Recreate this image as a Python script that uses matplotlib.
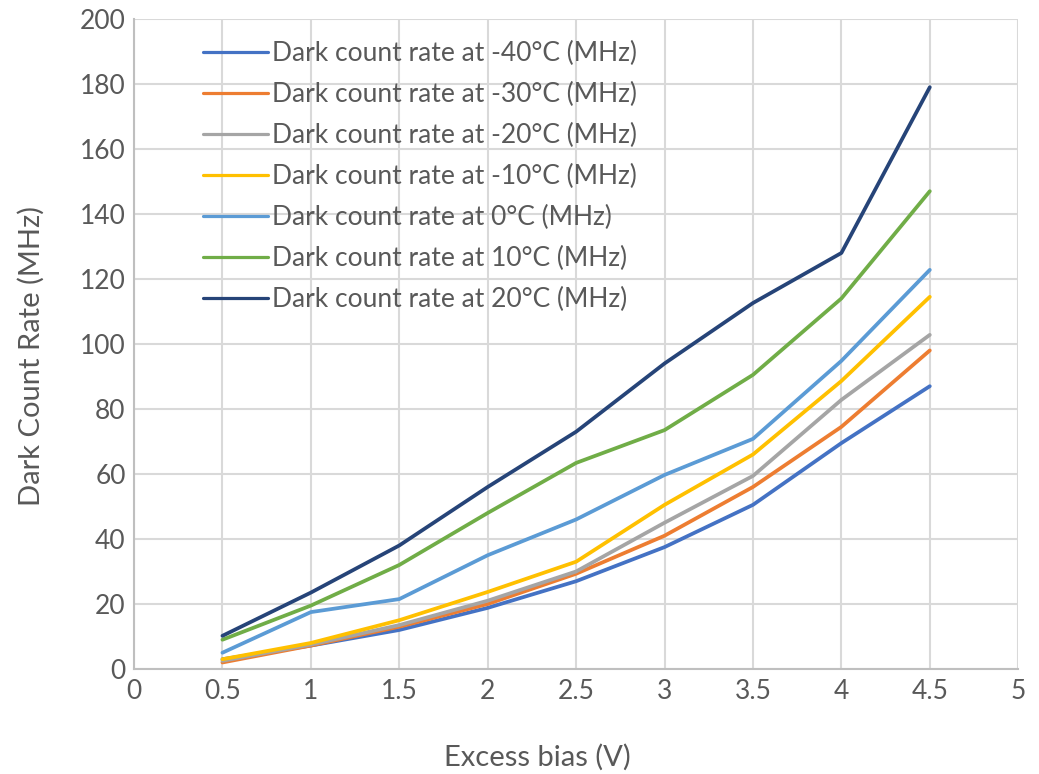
import matplotlib.pyplot as plt

plt.rcParams['font.family'] = ['Lato', 'DejaVu Sans']

bias = [0.5, 1, 1.5, 2, 2.5, 3, 3.5, 4, 4.5]
temps = ['-40', '-30', '-20', '-10', '0', '10', '20']
dcr_m40 = [3.0, 7.2, 12.0, 18.8, 27.0, 37.5, 50.5, 69.5, 87.0]
dcr_m30 = [2.0, 7.2, 13.0, 20.0, 29.3, 41.0, 56.0, 74.5, 98.0]
dcr_m20 = [2.5, 7.5, 13.5, 21.0, 30.0, 45.0, 59.4, 82.8, 102.8]
dcr_m10 = [3.0, 8.0, 15.0, 23.7, 33.0, 50.5, 66.0, 88.6, 114.5]
dcr_0 = [5.0, 17.5, 21.5, 35.0, 46.0, 59.7, 70.8, 94.8, 122.8]
dcr_10 = [9.0, 19.5, 32.0, 48.0, 63.4, 73.5, 90.5, 114.0, 147.0]
dcr_20 = [10.2, 23.5, 38.0, 56.0, 73.0, 94.0, 112.6, 128.0, 179.0]
series = [dcr_m40, dcr_m30, dcr_m20, dcr_m10, dcr_0, dcr_10, dcr_20]
colors = ['#4472C4', '#ED7D31', '#A5A5A5', '#FFC000', '#5B9BD5', '#70AD47', '#264478']

fig = plt.figure(figsize=(10.39, 7.74), dpi=100)
ax = fig.add_axes([0.129, 0.1357, 0.851, 0.8398])

for t, vals, c in zip(temps, series, colors):
    ax.plot(bias, vals, color=c, lw=2.7, label=f'Dark count rate at {t}°C (MHz)',
            solid_joinstyle='round', solid_capstyle='round')

txt = '#595959'
ax.set_xlim(0, 5)
ax.set_ylim(0, 200)
ax.set_xticks([0, 0.5, 1, 1.5, 2, 2.5, 3, 3.5, 4, 4.5, 5])
ax.set_xticklabels(['0', '0.5', '1', '1.5', '2', '2.5', '3', '3.5', '4', '4.5', '5'])
ax.set_yticks(range(0, 201, 20))
ax.grid(True, color='#d9d9d9', lw=1.5)
ax.set_axisbelow(True)
for s in ['top', 'right']:
    ax.spines[s].set_visible(False)
for s in ['left', 'bottom']:
    ax.spines[s].set_color('#bfbfbf')
    ax.spines[s].set_linewidth(1.5)
ax.tick_params(length=0, labelsize=19, colors=txt)
ax.tick_params(axis='x', pad=7)
ax.tick_params(axis='y', pad=6)

fig.text(537 / 1039, 1 - 757 / 774, 'Excess bias (V)', fontsize=21, color=txt,
         ha='center', va='center')
fig.text(31 / 1039, 1 - 356 / 774, 'Dark Count Rate (MHz)', fontsize=21, color=txt,
         ha='center', va='center', rotation=90)

leg = ax.legend(loc='upper left', bbox_to_anchor=(0.066, 0.982), frameon=False,
                fontsize=19, labelcolor=txt, handlelength=2.45, handletextpad=0.18,
                labelspacing=0.6, borderaxespad=0)
for h in leg.get_lines():
    h.set_linewidth(2.3)

fig.savefig('out.png', dpi=100)
